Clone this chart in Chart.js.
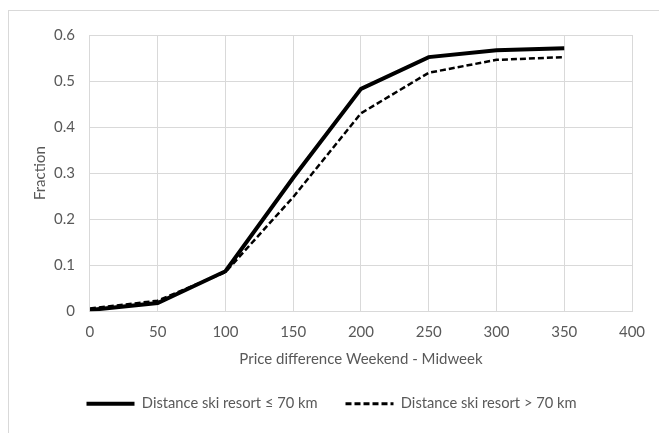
<!DOCTYPE html>
<html>
<head>
<meta charset="utf-8">
<script src="https://cdn.jsdelivr.net/npm/chart.js@4.4.0/dist/chart.umd.min.js"></script>
<style>
    html, body { margin: 0; padding: 0; background: #fff; }
    #wrap { position: relative; width: 659px; height: 433px; overflow: hidden; }
    #frame { position: absolute; left: 8px; top: 10px; width: 700px; height: 500px; border: 1px solid #d9d9d9; }
    canvas { position: absolute; left: 0; top: 0; }
</style>
</head>
<body>
<div id="wrap">
    <div id="frame"></div>
    <canvas id="chart" width="659" height="433"></canvas>
</div>
<script>
// Datos del gráfico
const priceDiff = [0, 50, 100, 150, 200, 250, 300, 350];
const near = [0.003, 0.018, 0.087, 0.290, 0.483, 0.552, 0.567, 0.571];
const far = [0.006, 0.023, 0.085, 0.248, 0.430, 0.518, 0.546, 0.552];
const nearLabel = 'Distance ski resort ≤ 70 km';
const farLabel = 'Distance ski resort > 70 km';

const textColor = '#595959';
const gridColor = '#d9d9d9';
const fontFamily = 'Lato, "Open Sans", sans-serif';

function toPoints(xs, ys) {
    return xs.map((x, i) => ({ x: x, y: ys[i] }));
}

// Etiquetas de leyenda con el mismo trazo que cada serie
function legendLabels(chart) {
    const items = Chart.defaults.plugins.legend.labels.generateLabels(chart);
    items.forEach(item => {
        const ds = chart.data.datasets[item.datasetIndex];
        item.lineDash = ds.borderDash || [];
        item.lineWidth = ds.legendWidth;
        item.strokeStyle = ds.borderColor;
        item.pointStyle = 'line';
    });
    return items;
}

new Chart(document.getElementById('chart').getContext('2d'), {
    type: 'line',
    data: {
        datasets: [{
            label: nearLabel,
            data: toPoints(priceDiff, near),
            borderColor: '#000',
            backgroundColor: '#000',
            borderWidth: 4,
            legendWidth: 4,
            pointRadius: 0,
            tension: 0
        }, {
            label: farLabel,
            data: toPoints(priceDiff, far),
            borderColor: '#000',
            backgroundColor: '#000',
            borderWidth: 2.5,
            legendWidth: 3,
            borderDash: [6, 3],
            pointRadius: 0,
            tension: 0
        }]
    },
    options: {
        responsive: false,
        animation: false,
        layout: { padding: { left: 31, right: 27, top: 35, bottom: 12 } },
        scales: {
            x: {
                type: 'linear',
                min: 0,
                max: 400,
                grid: { color: gridColor, drawTicks: false },
                border: { color: gridColor },
                ticks: { stepSize: 50, padding: 12, color: textColor, font: { family: fontFamily, size: 15 } },
                title: { display: true, text: 'Price difference Weekend - Midweek', color: textColor, padding: { top: -3, bottom: 0 }, font: { family: fontFamily, size: 15 } }
            },
            y: {
                min: 0,
                max: 0.6,
                grid: { color: gridColor, drawTicks: false },
                border: { color: gridColor },
                ticks: { stepSize: 0.1, padding: 15, color: textColor, font: { family: fontFamily, size: 15 },
                    callback: v => Math.round(v * 10) / 10 + '' },
                title: { display: true, text: 'Fraction', color: textColor, padding: { top: 0, bottom: -10 }, font: { family: fontFamily, size: 15 } }
            }
        },
        plugins: {
            legend: {
                position: 'bottom',
                labels: {
                    usePointStyle: true,
                    pointStyle: 'line',
                    pointStyleWidth: 48,
                    color: textColor,
                    padding: 28,
                    font: { family: fontFamily, size: 14.7 },
                    generateLabels: legendLabels
                }
            },
            tooltip: { enabled: false }
        }
    }
});
</script>
</body>
</html>
